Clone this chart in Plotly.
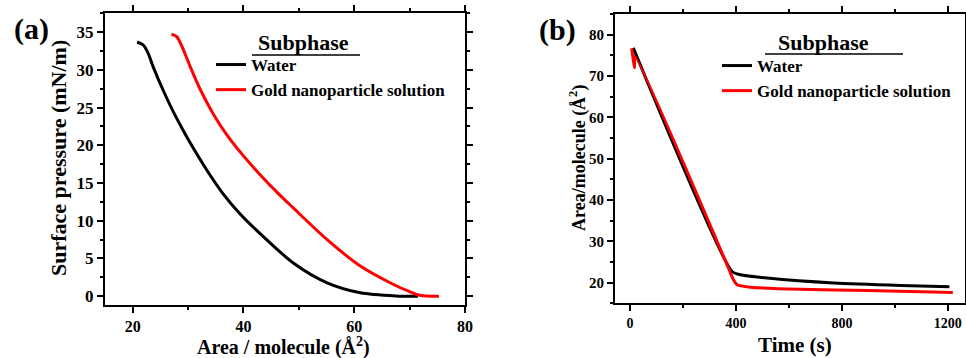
import plotly.graph_objects as go

# ---- Panel (a): surface pressure isotherms ----
water_area = [20.8, 21.9, 22.8, 23.7, 25.5, 27.3, 29.1, 30.4, 33.4, 36.4, 39.4, 43.0, 49.0, 55.1, 61.1, 67.5, 71.5]
water_pressure = [33.7, 33.3, 32.2, 30.4, 27.3, 24.5, 22.0, 20.3, 16.7, 13.5, 10.9, 8.3, 4.4, 1.77, 0.45, 0.04, 0.0]
gold_area = [27.0, 27.95, 28.9, 30.4, 32.2, 34.6, 37.0, 40.0, 43.0, 46.3, 49.0, 55.1, 61.1, 67.1, 69.8, 72.0, 75.3]
gold_pressure = [34.75, 34.4, 33.1, 30.4, 27.4, 24.1, 21.4, 18.6, 16.1, 13.6, 11.7, 7.5, 4.0, 1.55, 0.66, 0.1, 0.0]

# ---- Panel (b): area per molecule vs time ----
water_time = [12, 385, 417, 518, 770, 1023, 1206]
water_apm = [76.8, 22.7, 21.9, 21.1, 19.9, 19.3, 19.0]
gold_time = [6, 17, 18, 375, 388, 404, 455, 644, 897, 1219]
gold_apm = [76.7, 72.0, 74.8, 23.0, 21.0, 19.5, 18.9, 18.4, 18.1, 17.6]

series_names = ["Water", "Gold nanoparticle solution"]
series_colors = ["#000000", "#ff0000"]

FONT = "Liberation Serif, Times New Roman, Tinos, DejaVu Serif, serif"
W, H = 966, 358

fig = go.Figure()
fig.add_trace(go.Scatter(x=water_area, y=water_pressure, mode="lines", name=series_names[0],
                         line=dict(color=series_colors[0], width=3, shape="spline", smoothing=0.8),
                         xaxis="x", yaxis="y", legend="legend"))
fig.add_trace(go.Scatter(x=gold_area, y=gold_pressure, mode="lines", name=series_names[1],
                         line=dict(color=series_colors[1], width=3, shape="spline", smoothing=0.8),
                         xaxis="x", yaxis="y", legend="legend"))
fig.add_trace(go.Scatter(x=water_time, y=water_apm, mode="lines", name=series_names[0],
                         line=dict(color=series_colors[0], width=3, shape="spline", smoothing=0.6),
                         xaxis="x2", yaxis="y2", legend="legend2"))
fig.add_trace(go.Scatter(x=gold_time, y=gold_apm, mode="lines", name=series_names[1],
                         line=dict(color=series_colors[1], width=3, shape="spline", smoothing=0.6),
                         xaxis="x2", yaxis="y2", legend="legend2"))

def ax(domain, rng, dtick, minor_dtick, anchor, size):
    return dict(domain=domain, range=rng, anchor=anchor, showline=True, linewidth=2,
                linecolor="black", mirror="ticks", ticks="outside", ticklen=6, tickwidth=2,
                tickcolor="black", tick0=0, dtick=dtick,
                minor=dict(dtick=minor_dtick, tick0=0, ticks="outside", ticklen=3, tickwidth=2,
                           tickcolor="black", showgrid=False),
                showgrid=False, zeroline=False, automargin=False,
                tickfont=dict(family=FONT, size=size, color="black", weight="bold"))

legend_common = dict(xanchor="left", yanchor="top", bgcolor="rgba(0,0,0,0)", borderwidth=0,
                     font=dict(family=FONT, size=17, color="black", weight="bold"),
                     itemwidth=30, tracegroupgap=0)

fig.update_layout(
    width=W, height=H, margin=dict(l=0, r=0, t=0, b=0),
    paper_bgcolor="white", plot_bgcolor="white",
    font=dict(family=FONT, color="black"),
    xaxis=ax([105 / W, 465 / W], [15, 80], 20, 10, "y", 16),
    yaxis=ax([1 - 304.5 / H, 1 - 13.3 / H], [-1.1, 37.5], 5, 2.5, "x", 17),
    xaxis2=ax([615 / W, 965 / W], [-57, 1265], 400, 200, "y2", 14),
    yaxis2=ax([1 - 303.3 / H, 1 - 14 / H], [15, 85], 10, 5, "x2", 15),
    legend=dict(x=211 / W, y=1 - 47 / H, **legend_common),
    legend2=dict(x=717 / W, y=1 - 48 / H, **legend_common),
    showlegend=True,
)

def note(text, x, y, size, angle=0):
    fig.add_annotation(text=text, x=x / W, y=1 - y / H, xref="paper", yref="paper",
                       xanchor="center", yanchor="middle", showarrow=False, textangle=angle,
                       font=dict(family=FONT, size=size, color="black", weight="bold"))

note("(a)", 31, 29, 30)
note("(b)", 557, 30, 30)
note("Surface pressure (mN/m)", 59, 158, 22, -90)
note("Area / molecule (Å<sup>2</sup>)", 283, 346, 20)
note("Area/molecule (Å<sup>2</sup>)", 578, 158, 18, -90)
note("Time (s)", 795, 345, 21)
note("Subphase", 303, 42, 22)
note("Subphase", 823, 42, 22)

for x0, x1, yy in [(252, 360, 55), (765, 903, 54)]:
    fig.add_shape(type="line", xref="paper", yref="paper", x0=x0 / W, x1=x1 / W,
                  y0=1 - yy / H, y1=1 - yy / H, line=dict(color="black", width=1.5))

fig.write_html("out.html")
